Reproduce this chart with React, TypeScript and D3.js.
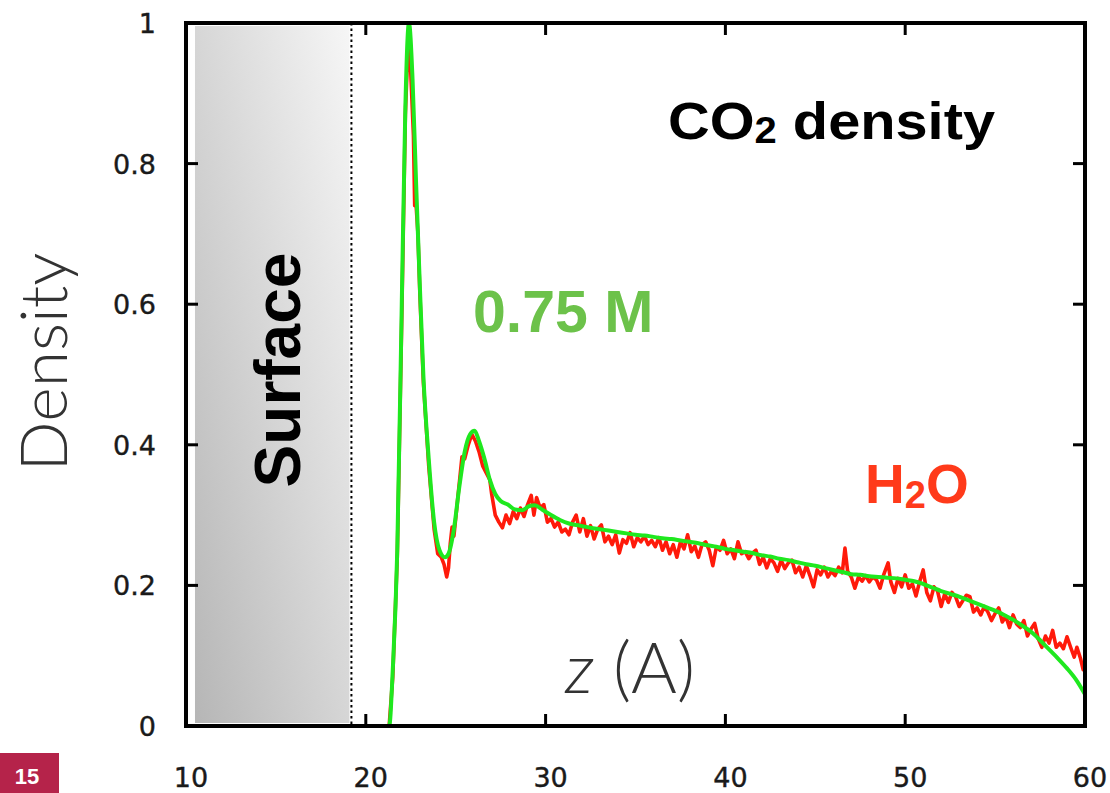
import React from "react";
import * as d3 from "d3";

// Density profiles along z (Å): smooth CO2 curve at 0.75 M and the noisy water curve.
const CO2_PROFILE: [number, number][] = [
  [21.0, 0], [21.3, 0.0], [21.5, 0.08], [21.75, 0.25], [22.0, 0.6], [22.2, 0.88], [22.4, 1.0],
  [22.6, 0.92], [22.8, 0.77], [23.0, 0.63], [23.2, 0.5], [23.5, 0.38], [23.8, 0.29], [24.1, 0.25],
  [24.4, 0.24], [24.6, 0.245], [24.9, 0.28], [25.2, 0.34], [25.5, 0.39], [25.8, 0.415], [26.05, 0.42],
  [26.3, 0.405], [26.6, 0.38], [26.9, 0.35], [27.2, 0.33], [27.5, 0.32], [27.9, 0.315], [28.3, 0.308],
  [28.7, 0.307], [29.1, 0.313], [29.4, 0.314], [29.8, 0.308], [30.3, 0.3], [30.8, 0.293], [31.3, 0.288],
  [31.9, 0.285], [32.5, 0.282], [33.0, 0.28], [33.5, 0.278], [34.0, 0.276], [34.5, 0.274], [35.0, 0.272],
  [35.5, 0.271], [36.0, 0.269], [36.5, 0.267], [37.0, 0.266], [37.5, 0.264], [38.0, 0.262], [38.5, 0.26],
  [39.0, 0.257], [39.5, 0.255], [40.0, 0.252], [40.5, 0.25], [41.0, 0.248], [41.5, 0.246], [42.0, 0.243],
  [42.5, 0.241], [43.0, 0.238], [43.5, 0.236], [44.0, 0.233], [44.5, 0.23], [45.0, 0.228], [45.5, 0.225],
  [46.0, 0.222], [46.5, 0.219], [47.0, 0.216], [47.5, 0.215], [48.0, 0.213], [48.5, 0.212], [49.0, 0.211],
  [49.5, 0.21], [50.0, 0.208], [50.5, 0.206], [51.0, 0.202], [51.5, 0.197], [52.0, 0.192], [52.5, 0.188],
  [53.0, 0.184], [53.5, 0.179], [54.0, 0.174], [54.5, 0.169], [55.0, 0.164], [55.5, 0.158], [56.0, 0.151],
  [56.5, 0.143], [57.0, 0.134], [57.5, 0.122], [58.0, 0.109], [58.5, 0.096], [59.0, 0.082], [59.5, 0.066],
  [60.0, 0.045],
];

const H2O_PROFILE: [number, number][] = [
  [21.3, 0], [21.5, 0.07], [21.75, 0.24], [22.0, 0.58], [22.2, 0.87], [22.35, 0.97], [22.5, 0.93],
  [22.65, 0.84], [22.72, 0.74], [22.8, 0.74], [22.9, 0.7], [23.0, 0.62], [23.2, 0.49], [23.5, 0.37],
  [23.8, 0.28], [24.0, 0.245], [24.2, 0.24], [24.35, 0.23], [24.5, 0.212], [24.6, 0.225], [24.7, 0.26],
  [24.8, 0.283], [24.9, 0.27], [25.1, 0.32], [25.35, 0.383], [25.5, 0.38], [25.7, 0.4], [25.9, 0.415],
  [26.1, 0.405], [26.3, 0.39], [26.5, 0.37], [26.7, 0.36], [26.9, 0.35], [27.0, 0.33], [27.2, 0.3],
  [27.4, 0.29], [27.6, 0.282], [27.8, 0.3], [28.0, 0.288], [28.2, 0.305], [28.4, 0.295], [28.6, 0.31],
  [28.8, 0.298], [29.0, 0.315], [29.2, 0.328], [29.35, 0.3], [29.5, 0.325], [29.7, 0.31], [29.9, 0.315],
  [30.1, 0.29], [30.3, 0.295], [30.5, 0.283], [30.7, 0.29], [30.9, 0.276], [31.1, 0.28], [31.3, 0.272],
  [31.5, 0.29], [31.7, 0.3], [31.9, 0.276], [32.1, 0.295], [32.3, 0.27], [32.5, 0.285], [32.7, 0.266],
  [32.9, 0.28], [33.1, 0.286], [33.3, 0.262], [33.5, 0.27], [33.7, 0.258], [33.9, 0.272], [34.1, 0.246],
  [34.3, 0.265], [34.5, 0.26], [34.7, 0.275], [34.9, 0.255], [35.1, 0.268], [35.3, 0.262], [35.5, 0.27],
  [35.7, 0.258], [35.9, 0.264], [36.1, 0.255], [36.3, 0.268], [36.5, 0.25], [36.7, 0.262], [36.9, 0.245],
  [37.1, 0.258], [37.3, 0.24], [37.5, 0.262], [37.7, 0.252], [37.9, 0.272], [38.1, 0.248], [38.3, 0.256],
  [38.5, 0.24], [38.7, 0.258], [38.9, 0.262], [39.1, 0.25], [39.3, 0.228], [39.5, 0.255], [39.7, 0.25],
  [39.9, 0.264], [40.1, 0.245], [40.3, 0.252], [40.5, 0.238], [40.7, 0.262], [40.9, 0.245], [41.1, 0.248],
  [41.3, 0.238], [41.5, 0.246], [41.7, 0.25], [41.9, 0.23], [42.1, 0.24], [42.3, 0.225], [42.5, 0.238],
  [42.7, 0.232], [42.9, 0.22], [43.1, 0.236], [43.3, 0.224], [43.5, 0.232], [43.7, 0.236], [43.9, 0.218],
  [44.1, 0.226], [44.3, 0.212], [44.5, 0.228], [44.7, 0.214], [44.9, 0.198], [45.1, 0.222], [45.3, 0.215],
  [45.5, 0.226], [45.7, 0.212], [45.9, 0.22], [46.1, 0.214], [46.3, 0.226], [46.5, 0.218], [46.65, 0.253],
  [46.8, 0.22], [47.0, 0.212], [47.2, 0.196], [47.4, 0.212], [47.6, 0.206], [47.8, 0.214], [48.0, 0.205],
  [48.2, 0.212], [48.4, 0.208], [48.6, 0.196], [48.8, 0.215], [49.05, 0.232], [49.2, 0.205], [49.4, 0.19],
  [49.6, 0.21], [49.8, 0.198], [50.0, 0.215], [50.2, 0.196], [50.4, 0.202], [50.6, 0.185], [50.8, 0.205],
  [51.0, 0.222], [51.2, 0.19], [51.4, 0.178], [51.6, 0.198], [51.8, 0.192], [52.0, 0.17], [52.2, 0.188],
  [52.4, 0.176], [52.6, 0.19], [52.8, 0.184], [53.0, 0.17], [53.2, 0.178], [53.4, 0.186], [53.6, 0.184],
  [53.8, 0.162], [54.0, 0.168], [54.2, 0.158], [54.4, 0.17], [54.6, 0.162], [54.8, 0.15], [55.0, 0.16],
  [55.2, 0.168], [55.4, 0.148], [55.6, 0.156], [55.8, 0.14], [56.0, 0.158], [56.2, 0.145], [56.4, 0.14],
  [56.6, 0.15], [56.8, 0.128], [57.0, 0.138], [57.2, 0.146], [57.4, 0.124], [57.6, 0.112], [57.8, 0.128],
  [58.0, 0.118], [58.2, 0.136], [58.4, 0.112], [58.6, 0.118], [58.8, 0.11], [59.0, 0.127], [59.2, 0.112],
  [59.4, 0.098], [59.55, 0.112], [59.75, 0.096], [59.9, 0.08], [60.0, 0.086],
];

const X_TICKS = [10, 20, 30, 40, 50, 60];
const X_TICK_LABELS = ["10", "20", "30", "40", "50", "60"];
const Y_TICKS = [0, 0.2, 0.4, 0.6, 0.8, 1];
const Y_TICK_LABELS = ["0", "0.2", "0.4", "0.6", "0.8", "1"];

// Solid surface slab and its boundary (Å)
const SURFACE_START = 10.5;
const SURFACE_EDGE = 19.2;

const W = 1110;
const H = 793;
const PLOT = { left: 186, right: 1085, top: 23, bottom: 726 };
const TICK_LEN = 12;

export default function App() {
  const x = d3.scaleLinear().domain([10, 60]).range([PLOT.left, PLOT.right]);
  const y = d3.scaleLinear().domain([0, 1]).range([PLOT.bottom, PLOT.top]);

  const co2Line = d3
    .line<[number, number]>()
    .x((d) => x(d[0]))
    .y((d) => y(d[1]))
    .curve(d3.curveMonotoneX);
  const h2oLine = d3
    .line<[number, number]>()
    .x((d) => x(d[0]))
    .y((d) => y(d[1]))
    .curve(d3.curveLinear);

  const sans = "'Liberation Sans', Arial, Helvetica, sans-serif";
  const tickFont = "'DejaVu Sans', Verdana, sans-serif";
  const lightFont = "Lato, 'Open Sans', 'Helvetica Neue', sans-serif";

  return (
    <svg
      width={W}
      height={H}
      viewBox={`0 0 ${W} ${H}`}
      style={{ position: "absolute", left: 0, top: 0, background: "#fff" }}
    >
      <defs>
        <linearGradient id="surfaceFill" x1="0" y1="1" x2="1" y2="0">
          <stop offset="0" stopColor="#b6b6b6" />
          <stop offset="1" stopColor="#f6f6f6" />
        </linearGradient>
        <clipPath id="plotClip">
          <rect x={PLOT.left} y={PLOT.top - 4} width={PLOT.right - PLOT.left} height={PLOT.bottom - PLOT.top + 4} />
        </clipPath>
      </defs>

      {/* surface slab */}
      <rect
        x={x(SURFACE_START)}
        y={PLOT.top + 3}
        width={x(SURFACE_EDGE) - x(SURFACE_START) - 2}
        height={PLOT.bottom - PLOT.top - 6}
        fill="url(#surfaceFill)"
      />
      <line
        x1={x(SURFACE_EDGE)}
        x2={x(SURFACE_EDGE)}
        y1={PLOT.top}
        y2={PLOT.bottom}
        stroke="#000"
        strokeWidth={2}
        strokeDasharray="2.5 3"
      />

      {/* profiles */}
      <g clipPath="url(#plotClip)">
        <path d={h2oLine(H2O_PROFILE) ?? ""} fill="none" stroke="#ff1a0a" strokeWidth={3.6} strokeLinejoin="round" />
        <path d={co2Line(CO2_PROFILE) ?? ""} fill="none" stroke="#1fe81f" strokeWidth={4} strokeLinejoin="round" />
      </g>

      {/* frame and mirrored inward ticks */}
      <rect
        x={PLOT.left}
        y={PLOT.top}
        width={PLOT.right - PLOT.left}
        height={PLOT.bottom - PLOT.top}
        fill="none"
        stroke="#000"
        strokeWidth={4}
      />
      {X_TICKS.map((t) => (
        <g key={`xt${t}`} stroke="#000" strokeWidth={3}>
          <line x1={x(t)} x2={x(t)} y1={PLOT.bottom} y2={PLOT.bottom - TICK_LEN} />
          <line x1={x(t)} x2={x(t)} y1={PLOT.top} y2={PLOT.top + TICK_LEN} />
        </g>
      ))}
      {Y_TICKS.map((t) => (
        <g key={`yt${t}`} stroke="#000" strokeWidth={3}>
          <line x1={PLOT.left} x2={PLOT.left + TICK_LEN} y1={y(t)} y2={y(t)} />
          <line x1={PLOT.right} x2={PLOT.right - TICK_LEN} y1={y(t)} y2={y(t)} />
        </g>
      ))}

      {/* tick labels */}
      {X_TICKS.map((t, i) => (
        <text
          key={`xl${t}`}
          x={x(t) + 5}
          y={787}
          textAnchor="middle"
          fontFamily={tickFont}
          fontSize={27}
          fill="#1a1a1a"
          stroke="#1a1a1a"
          strokeWidth={0.4}
        >
          {X_TICK_LABELS[i]}
        </text>
      ))}
      {Y_TICKS.map((t, i) => (
        <text
          key={`yl${t}`}
          x={156}
          y={y(t) + 10}
          textAnchor="end"
          fontFamily={tickFont}
          fontSize={27}
          fill="#1a1a1a"
          stroke="#1a1a1a"
          strokeWidth={0.4}
        >
          {Y_TICK_LABELS[i]}
        </text>
      ))}

      {/* axis titles */}
      <text
        transform="translate(67,362) rotate(-90)"
        textAnchor="middle"
        fontFamily={lightFont}
        fontWeight={300}
        fontSize={66}
        fill="#333"
      >
        Density
      </text>
      <text x={565} y={693} fontFamily={lightFont} fontWeight={300} fontSize={70} fill="#333">
        <tspan fontStyle="italic">z</tspan>
        <tspan> (A)</tspan>
      </text>

      {/* annotations */}
      <text
        transform="translate(300,370) rotate(-90)"
        textAnchor="middle"
        fontFamily={sans}
        fontWeight={700}
        fontSize={64}
        fill="#000"
      >
        Surface
      </text>
      <text
        x={668}
        y={139}
        fontFamily={sans}
        fontWeight={700}
        fontSize={52}
        fill="#000"
        textLength={327}
        lengthAdjust="spacingAndGlyphs"
      >
        CO
        <tspan fontSize={36} dy={4}>2</tspan>
        <tspan dy={-4}> density</tspan>
      </text>
      <text x={473} y={332} fontFamily={sans} fontWeight={700} fontSize={59} fill="#6cc24a">
        0.75 M
      </text>
      <text x={865} y={503} fontFamily={sans} fontWeight={700} fontSize={55} fill="#ff3a1a">
        H
        <tspan fontSize={38} dy={5}>2</tspan>
        <tspan dy={-5}>O</tspan>
      </text>

      {/* page badge */}
      <rect x={0} y={753} width={59} height={40} fill="#b5234a" />
      <text x={27} y={784} textAnchor="middle" fontFamily={sans} fontWeight={700} fontSize={22} fill="#fff">
        15
      </text>
    </svg>
  );
}
